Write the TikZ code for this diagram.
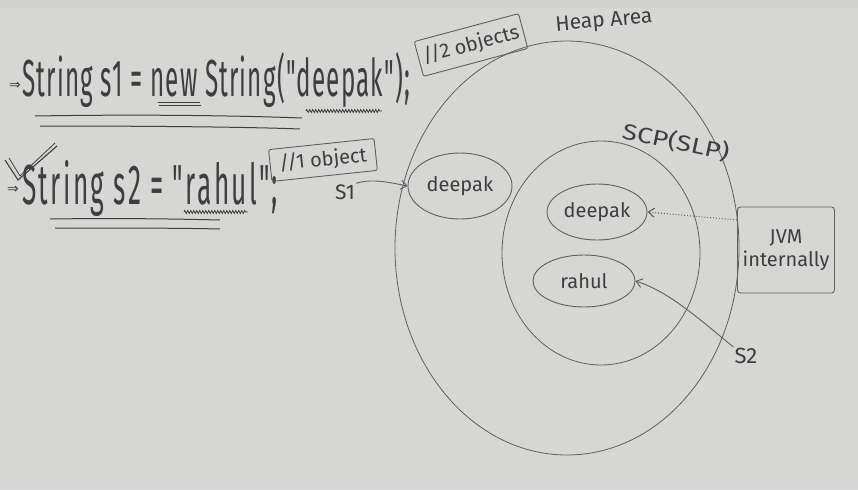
\documentclass[tikz,border=0pt]{standalone}
\usepackage{fontspec}
\newfontfamily\handfont{Fira Sans}
\newfontfamily\codeA{Fira Sans}[LetterSpace=5]
\newfontfamily\codeB{Fira Sans}[LetterSpace=9]
\newfontfamily\symfont{DejaVu Sans}
\usetikzlibrary{arrows.meta,decorations.pathmorphing,shapes.geometric}
\definecolor{board}{RGB}{214,214,212}
\definecolor{ink}{RGB}{62,62,62}
\definecolor{pen}{RGB}{95,95,95}
\tikzset{
  hand/.style={text=ink, inner sep=1pt},
  mid/.style={hand, font=\handfont\fontsize{20}{23}\selectfont},
  oval/.style={draw=pen, line width=0.9pt, ellipse, inner sep=0pt},
  region/.style={draw=pen, line width=0.8pt},
  tag/.style={draw=pen, line width=0.9pt, rounded corners=2pt, mid},
  arr/.style={draw=pen, line width=0.9pt, -{Straight Barb[length=6pt,width=9pt]}},
  ul/.style={draw=ink, line width=1pt},
  wavy/.style={draw=ink, line width=0.8pt, decorate, decoration={coil, aspect=0, segment length=3pt, amplitude=1.5pt}}
}
\begin{document}
\begin{tikzpicture}[x=1pt,y=-1pt]
\useasboundingbox (0,0) rectangle (858,490);
\fill[board] (0,0) rectangle (858,490);
\fill[gray!45, opacity=0.35] (0,0) rectangle (858,8);

% code lines
\node[hand, font=\symfont\fontsize{14}{14}\selectfont, anchor=east] (a1) at (22,86) {⇒};
\node[hand, anchor=west, inner sep=0pt] (l1) at (22,80) {\resizebox{388pt}{44pt}{\codeA String s1 = new String("deepak");}};
\draw[ul] (35,116) .. controls (150,114) and (250,116) .. (302,118);
\draw[ul] (40,126) .. controls (150,126) and (250,127) .. (300,129);
\draw[ul] (158,102) -- (200,102);
\draw[ul] (159,105.5) -- (201,105.5);
\draw[wavy] (306,111) -- (382,111);

\node[hand, font=\symfont\fontsize{14}{14}\selectfont, anchor=east] (a2) at (20,190) {⇒};
\draw[ul, line width=1.1pt] (5,160) -- (18,180) -- (57,146);
\draw[ul, line width=0.8pt] (9,158) -- (20,176) -- (55,143);
\node[hand, anchor=west, inner sep=0pt] (l2) at (22,188) {\resizebox{256pt}{44pt}{\codeB String s2 = "rahul";}};
\draw[ul] (50,219) .. controls (120,218) and (180,219) .. (220,220);
\draw[ul] (55,228) .. controls (120,228) and (180,228) .. (220,229);
\draw[wavy] (184,212) -- (248,212);

% tags
\node[tag, rotate=6, minimum width=106pt, minimum height=32pt] (t1) at (323,160) {//1 object};
\node[tag, rotate=15, minimum width=108pt, minimum height=36pt] (t2) at (471,45) {//2 objects};

% regions
\draw[region] (567,248) ellipse [x radius=172, y radius=207];
\draw[region] (601,253) ellipse [x radius=99, y radius=112];
\node[hand, rotate=5, font=\handfont\fontsize{21}{24}\selectfont] (heap) at (604,22) {Heap Area};
\node[hand, rotate=-12] (scp) at (676,142) {\scalebox{1.25}[1]{\handfont\fontsize{22}{24}\selectfont SCP(SLP)}};

% objects
\node[oval, minimum width=104pt, minimum height=66pt, mid] (d1) at (460,186) {deepak};
\node[oval, minimum width=100pt, minimum height=56pt, mid] (d2) at (597,212) {deepak};
\node[oval, minimum width=102pt, minimum height=52pt, mid] (r) at (584,281) {rahul};

\node[draw=pen, line width=0.9pt, rounded corners=3pt, minimum width=97pt, minimum height=86pt, align=center, mid] (jvm) at (786,250) {JVM\\internally};

\node[hand, font=\handfont\fontsize{21}{24}\selectfont] (s1) at (345,192) {S1};
\node[hand, font=\handfont\fontsize{22}{24}\selectfont] (s2) at (746,356) {S2};

% connectors
\draw[arr] (s1.north east) .. controls (372,178) and (392,183) .. (d1.west);
\draw[arr, dotted, line width=1.1pt] (jvm.west |- 0,220) -- (d2.east);
\draw[arr] (s2.north west) .. controls (700,320) and (670,292) .. (r.east);
\end{tikzpicture}
\end{document}
